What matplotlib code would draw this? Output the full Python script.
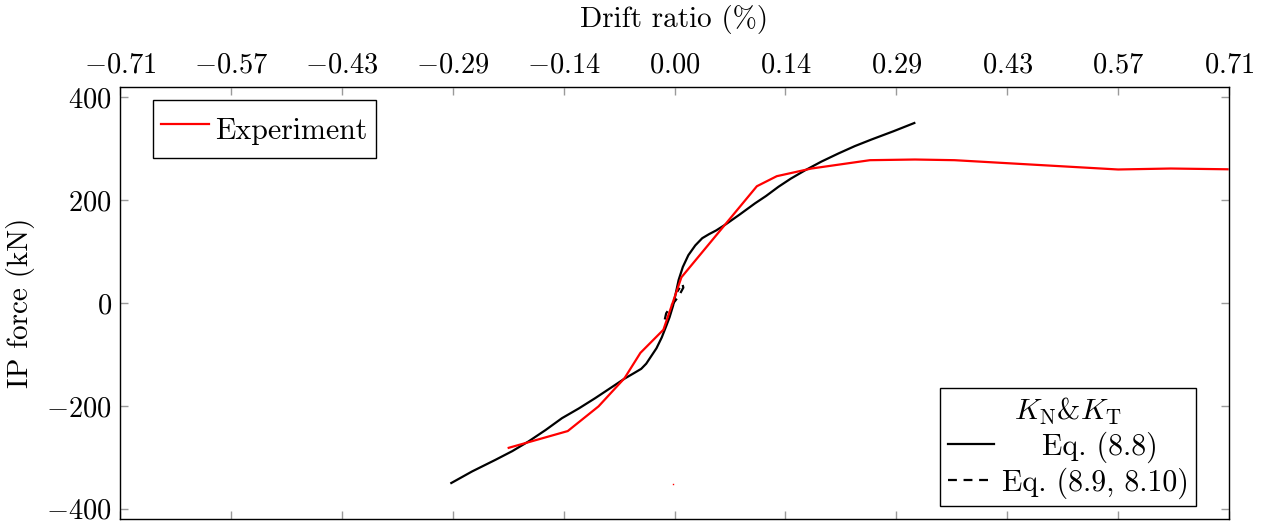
import matplotlib
matplotlib.use("Agg")
import matplotlib.pyplot as plt
from matplotlib.lines import Line2D

plt.rcParams['font.family'] = 'serif'
plt.rcParams['font.serif'] = ['cmr10']
plt.rcParams['mathtext.fontset'] = 'cm'
plt.rcParams['axes.unicode_minus'] = False
plt.rcParams['axes.formatter.use_mathtext'] = True

# ---- data (displacement in mm, force in kN) ----
exp_x = [-5.98, -3.85, -2.74, -1.80, -1.23, -0.40, 0.25, 2.97, 3.69, 4.94, 7.05, 8.67, 10.1, 16.0, 17.9, 19.95]
exp_y = [-281.6, -249, -201, -146, -97, -52, 50, 227, 246.6, 261.5, 277.7, 279, 277.7, 259.6, 261.5, 260]

eq88_x = [-8.05, -7.30, -6.46, -5.85, -5.26, -4.65, -4.06, -3.45, -2.86, -2.30, -1.80, -1.45, -1.20,
          -1.02, -0.86, -0.65, -0.46, -0.30, -0.18, -0.05, 0.05, 0.15, 0.30, 0.50, 0.75, 1.00,
          1.25, 1.50, 1.85, 2.35, 2.91, 3.30, 3.75, 4.20, 4.71, 5.30, 5.91, 6.50, 7.11, 7.90, 8.65]
eq88_y = [-350, -327.5, -305, -288, -269, -247, -224, -205, -185, -165, -147, -136, -128,
          -118, -105, -88, -67, -45, -28, -5, 20, 45, 70, 93, 112, 126,
          134, 141, 153, 172, 194, 208, 226, 242, 258, 275, 290.7, 305, 318, 334, 350]

eq810_x = [-0.35, -0.30, -0.15, 0.05, 0.20, 0.32, 0.28, 0.10]
eq810_y = [-32, -20, -8, 6, 18, 30, 38, 22]

stray_x = [-0.04]
stray_y = [-351]

bottom_ticks = [-20, -16, -12, -8, -4, 0, 4, 8, 12, 16, 20]
top_labels = ["-0.71", "-0.57", "-0.43", "-0.29", "-0.14", "0.00", "0.14", "0.29", "0.43", "0.57", "0.71"]
y_ticks = [-400, -200, 0, 200, 400]

FS = 20.5
LFS = 21.5

fig = plt.figure(figsize=(12.65, 5.22), dpi=100)
ax = fig.add_axes([120/1265, 3/522, 1109/1265, 432/522])

ax.plot(eq88_x, eq88_y, color='black', lw=1.6, solid_joinstyle='round')
ax.plot(eq810_x, eq810_y, color='black', lw=1.6, ls=(0, (4, 3)))
exp_line, = ax.plot(exp_x, exp_y, color='red', lw=1.6, label='Experiment')
ax.plot(stray_x, stray_y, color='red', marker='s', ms=1.0, mew=0, lw=0)

ax.set_xlim(-20, 20)
ax.set_ylim(-420, 420)
ax.set_xticks(bottom_ticks)
ax.set_xticklabels([])
ax.set_yticks(y_ticks)
ax.set_yticklabels([f"${v}$" for v in y_ticks], fontsize=FS)
ax.set_ylabel("IP force (kN)", fontsize=21, labelpad=8)
ax.tick_params(direction='in', length=6, color='#9a9a9a', width=1,
               top=False, right=True, bottom=True, left=True, pad=6)
for s in ax.spines.values():
    s.set_color('#333333')
    s.set_linewidth(1.0)

tax = ax.twiny()
tax.set_xlim(ax.get_xlim())
tax.set_xticks(bottom_ticks)
tax.set_xticklabels([f"${t}$" for t in top_labels], fontsize=FS)
tax.set_xlabel("Drift ratio (%)", fontsize=21, labelpad=18)
tax.tick_params(direction='in', length=6, color='#9a9a9a', width=1, pad=6)

leg1 = ax.legend(handles=[exp_line], loc='upper left', bbox_to_anchor=(33/1109, 1 - 13/432),
                 borderaxespad=0, fontsize=LFS, fancybox=False, edgecolor='black',
                 framealpha=1, handlelength=1.6, handletextpad=0.2, borderpad=0.28,
                 handleheight=1.75)
leg1.get_frame().set_linewidth(1.0)
ax.add_artist(leg1)

h_solid = Line2D([], [], color='black', lw=1.6)
h_dash = Line2D([], [], color='black', lw=1.6, ls=(0, (4, 3)))
leg2 = ax.legend(handles=[h_solid, h_dash], labels=['    Eq. (8.8)', 'Eq. (8.9, 8.10)'],
                 title=r"$K_{\mathrm{N}}$&$K_{\mathrm{T}}$", title_fontsize=LFS,
                 loc='lower right', bbox_to_anchor=(1076/1109, 13/432),
                 borderaxespad=0, fontsize=LFS, fancybox=False, edgecolor='black',
                 framealpha=1, handlelength=1.55, handletextpad=0.25, borderpad=0.25,
                 labelspacing=0.15)
leg2.get_frame().set_linewidth(1.0)

fig.savefig("out.png", dpi=100)
